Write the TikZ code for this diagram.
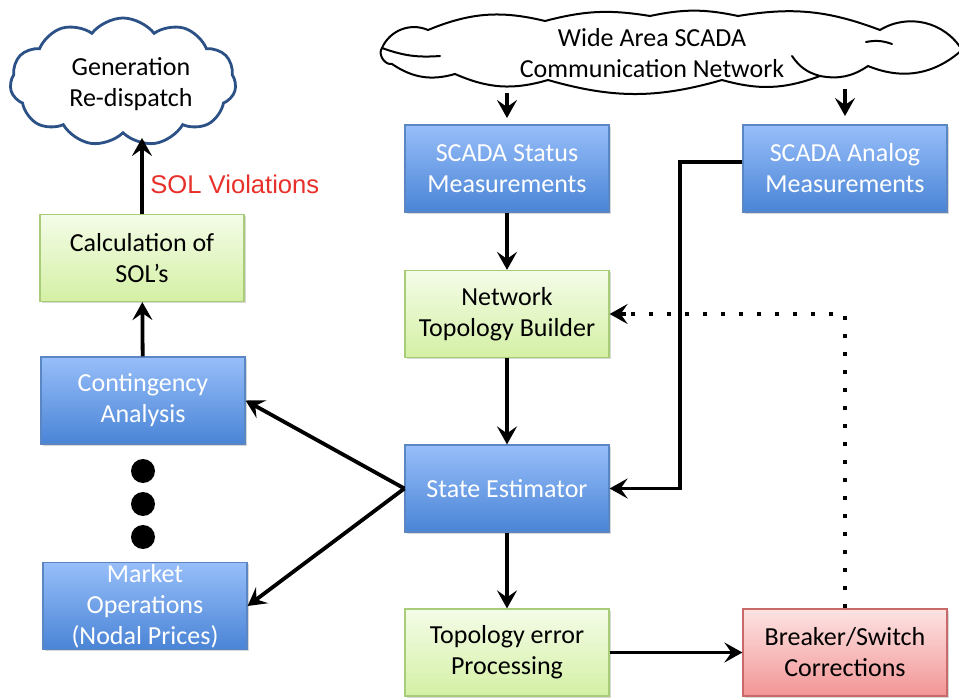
\documentclass[tikz,border=0pt]{standalone}
\usepackage{fontspec}
\setmainfont{Carlito}
\newfontfamily\arialfont{Liberation Sans}
\usetikzlibrary{shapes.symbols,arrows.meta,shadows,calc}

\definecolor{bluetop}{HTML}{97BEF9}
\definecolor{bluebot}{HTML}{4A84D6}
\definecolor{blueedge}{HTML}{5B86C4}
\definecolor{greentop}{HTML}{F4FCE8}
\definecolor{greenbot}{HTML}{D4F0A4}
\definecolor{greenedge}{HTML}{A9CC78}
\definecolor{redtop}{HTML}{FDE3E3}
\definecolor{redbot}{HTML}{F29595}
\definecolor{rededge}{HTML}{C86A6A}
\definecolor{cloudblue}{HTML}{2B5186}
\definecolor{solred}{HTML}{E8302A}

\tikzset{
  box/.style={rectangle, minimum width=102pt, minimum height=43.5pt,
    align=center, inner sep=0pt, line width=0.6pt,
    drop shadow={opacity=0.3, shadow xshift=0.8pt, shadow yshift=-0.9pt}},
  bluebox/.style={box, draw=blueedge, top color=bluetop, bottom color=bluebot, text=white},
  greenbox/.style={box, draw=greenedge, top color=greentop, bottom color=greenbot},
  redbox/.style={box, draw=rededge, top color=redtop, bottom color=redbot},
  cloudshape/.style={cloud, cloud ignores aspect, fill=white},
  cloudline/.style={draw=black, line width=1pt, line cap=round},
  cloudtext/.style={align=center, inner sep=0pt},
  arr/.style={line width=1.9pt, -{Stealth[length=9pt, width=10pt, inset=3.5pt]}},
  dotline/.style={line width=2.2pt, dash pattern=on 2pt off 7pt},
  bigdot/.style={fill=black}
}

\begin{document}
\begin{tikzpicture}[x=0.5pt, y=-0.5pt, font=\fontsize{13}{15.5}\selectfont]
  \useasboundingbox (0,0) rectangle (959,700);
  \fill[white] (0,0) rectangle (959,700);

  % generation cloud and caption
  \node[cloudshape, cloud puffs=11, cloud puff arc=105, minimum width=113pt,
        minimum height=64pt, draw=cloudblue, line width=1.4pt] (genshape) at (123,82) {};
  \node[cloudtext] (gen) at (131,84) {Generation\\Re-dispatch};

  % wide, flat communication cloud drawn puff by puff
  \draw[cloudline, fill=white]
    (382,48) to[bend left=45] (428,30) to[bend left=18] (545,21)
    to[bend left=12] (650,16) to[bend left=12] (738,16) to[bend left=15] (880,30)
    to[bend left=45] (962,50) to[bend left=32] (868,66) to[bend left=22] (820,76)
    to[bend left=18] (722,80) to[bend left=16] (548,80) to[bend left=20] (455,74)
    to[bend left=25] (392,64) to[bend left=70] (382,48) -- cycle;
  % inner puff hooks
  \draw[cloudline] (382,48) to[bend right=12] (440,56);
  \draw[cloudline] (820,76) to[bend left=20] (792,56);
  \draw[cloudline] (892,44) to[bend right=15] (866,42);
  \node[cloudtext] (wan) at (652,53) {Wide Area SCADA\\Communication Network};

  % boxes
  \node[bluebox]  (status)  at (507,168.5) {SCADA Status\\Measurements};
  \node[bluebox]  (analog)  at (845,168.5) {SCADA Analog\\Measurements};
  \node[greenbox] (topo)    at (507,314)   {Network\\Topology Builder};
  \node[bluebox]  (se)      at (507,488.5) {State Estimator};
  \node[greenbox] (toperr)  at (507,652.5) {Topology error\\Processing};
  \node[redbox]   (breaker) at (845,652.5) {Breaker/Switch\\Corrections};
  \node[greenbox] (sol)     at (142,258)   {Calculation of\\SOL’s};
  \node[bluebox]  (cont)    at (143,400.5) {Contingency\\Analysis};
  \node[bluebox]  (market)  at (145,606)   {Market\\Operations\\(Nodal Prices)};

  % ellipsis dots
  \fill[bigdot] (143,471) circle[radius=6pt];
  \fill[bigdot] (143,504) circle[radius=6pt];
  \fill[bigdot] (143,537) circle[radius=6pt];

  % label
  \node[font=\arialfont\fontsize{12.8}{14}\selectfont, text=solred, anchor=west,
        inner sep=0pt] (viol) at (150,184) {SOL Violations};

  % connector end points
  \coordinate (w1) at (507,93);
  \coordinate (w2) at (845,89);
  \coordinate (s1) at (507,118);
  \coordinate (s2) at (845,116);
  \coordinate (g1) at (142,138);
  \coordinate (an1) at (680,162);

  % connectors
  \draw[arr] (w1) -- (s1);
  \draw[arr] (w2) -- (s2);
  \draw[arr] (status) -- (topo);
  \draw[arr] (topo) -- (se);
  \draw[arr] (se) -- (toperr);
  \draw[arr] (toperr) -- (breaker);
  \draw[arr] (sol.north) -- (g1);
  \draw[arr] (cont) -- (sol);
  \draw[arr] (se.west) -- (cont.east);
  \draw[arr] (se.west) -- (market.east);
  \draw[arr] (analog.west |- an1) -- (an1) |- (se.east);
  \draw[dotline] (breaker.north) |- ($(topo.east)+(16,0)$) coordinate (d1);
  \draw[arr] (d1) -- (topo.east);
\end{tikzpicture}
\end{document}
